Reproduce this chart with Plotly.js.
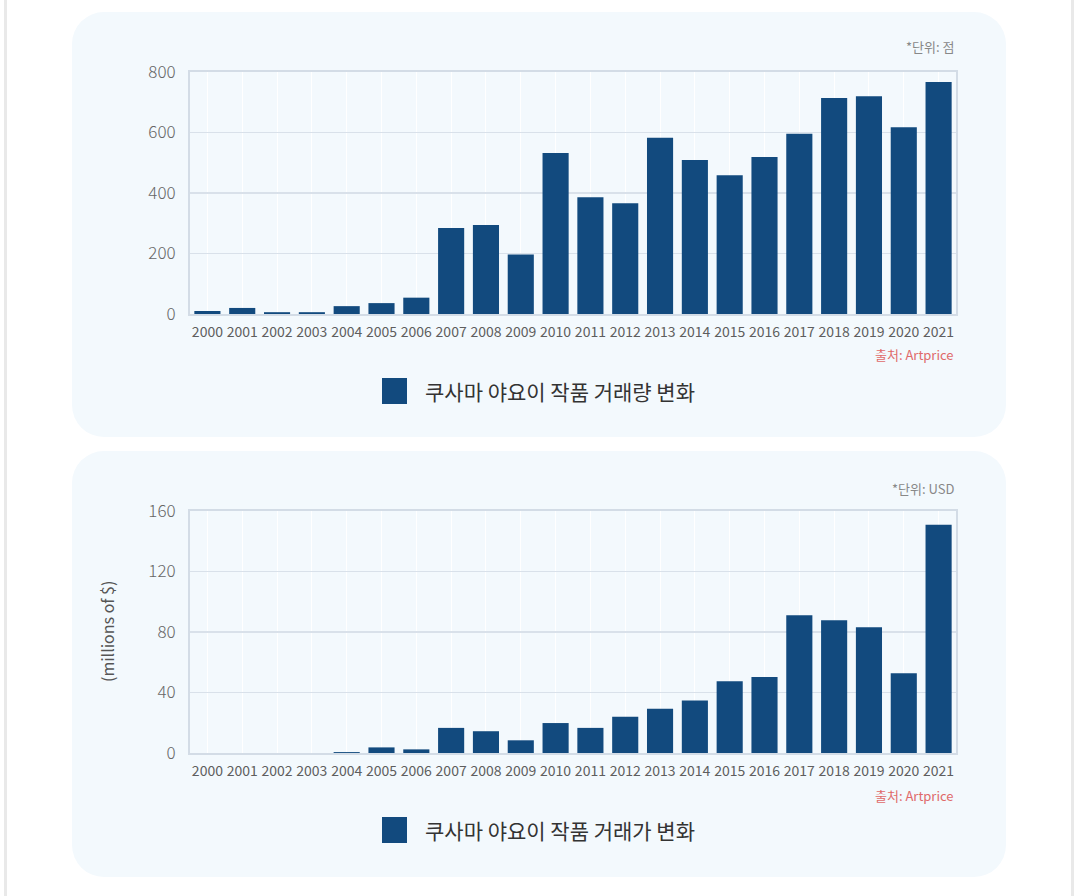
<!DOCTYPE html>
<html>
<head>
<meta charset="utf-8">
<script src="https://cdn.plot.ly/plotly-3.0.1.min.js"></script>
<style>
  html, body { margin:0; padding:0; background:#ffffff; width:1080px; height:896px; overflow:hidden; }
  .edge { position:absolute; top:0; width:3px; height:896px; background:#e9e9e9; }
  .panel { position:absolute; left:72px; width:934px; background:#f3f9fd; border-radius:32px; }
  #chart { position:absolute; left:0; top:0; width:1080px; height:896px; }
</style>
</head>
<body>
<div class="edge" style="left:4px"></div>
<div class="edge" style="left:1071px"></div>
<div class="panel" style="top:12px;height:425px"></div>
<div class="panel" style="top:451px;height:426px"></div>
<div id="chart"></div>
<script>
const years = ['2000','2001','2002','2003','2004','2005','2006','2007','2008','2009','2010',
               '2011','2012','2013','2014','2015','2016','2017','2018','2019','2020','2021'];
const volume = [10,20,6,6,26,36,54,284,294,197,532,386,366,583,509,459,519,596,714,720,617,767];
const salesValue = [0,0,0,0,0.6,3.7,2.4,16.6,14.4,8.4,19.8,16.6,23.9,29.2,34.7,47.5,50.2,91.1,87.8,83.2,52.8,150.9];
const volumeTicks = [0,200,400,600,800];
const valueTicks = [0,40,80,120,160];
const legendVolume = '쿠사마 야요이 작품 거래량 변화';
const legendValue = '쿠사마 야요이 작품 거래가 변화';
const unitVolume = '*단위: 점';
const unitValue = '*단위: USD';
const sourceText = '출처: Artprice';
const yTitle2 = '(millions of $)';

const W = 1080, H = 896;
const px = x => x / W;
const py = y => (H - y) / H;
const FONT = '"Noto Sans CJK KR", "Noto Sans", sans-serif';
const BAR = '#124a7e';

const xCommon = {
  type:'category', domain:[px(190), px(956)],
  showgrid:true, gridcolor:'rgba(255,255,255,0.95)', gridwidth:1,
  showline:true, linecolor:'#d3dce6', linewidth:2, mirror:true,
  ticks:'', ticklabelstandoff:4,
  tickfont:{family:FONT, size:14, color:'#5e5e5e'}, fixedrange:true
};
const yCommon = {
  showgrid:true, gridcolor:'#d9e1ea', gridwidth:1.5, zeroline:false,
  showline:true, linecolor:'#d3dce6', linewidth:2, mirror:true,
  ticks:'', ticklabelstandoff:9,
  tickfont:{family:FONT, size:17, color:'#666', weight:300}, fixedrange:true
};

const traces = [
  {type:'bar', x:years, y:volume, xaxis:'x', yaxis:'y', marker:{color:BAR}, hoverinfo:'x+y', showlegend:false},
  {type:'bar', x:years, y:salesValue, xaxis:'x2', yaxis:'y2', marker:{color:BAR}, hoverinfo:'x+y', showlegend:false}
];

const layout = {
  width:W, height:H,
  margin:{l:0, r:0, t:0, b:0},
  paper_bgcolor:'rgba(0,0,0,0)', plot_bgcolor:'rgba(0,0,0,0)',
  bargap:0.25, showlegend:false,
  font:{family:FONT},
  xaxis:Object.assign({}, xCommon, {anchor:'y'}),
  yaxis:Object.assign({}, yCommon, {anchor:'x', domain:[py(314), py(72)], range:[0,800], tickvals:volumeTicks}),
  xaxis2:Object.assign({}, xCommon, {anchor:'y2'}),
  yaxis2:Object.assign({}, yCommon, {anchor:'x2', domain:[py(753), py(511)], range:[0,160], tickvals:valueTicks}),
  shapes:[
    {type:'rect', xref:'paper', yref:'paper', x0:px(382), x1:px(407), y0:py(404), y1:py(378), fillcolor:BAR, line:{width:0}},
    {type:'rect', xref:'paper', yref:'paper', x0:px(382), x1:px(407), y0:py(843), y1:py(817), fillcolor:BAR, line:{width:0}}
  ],
  annotations:[
    {xref:'paper', yref:'paper', x:px(956), y:py(47), xanchor:'right', yanchor:'middle', showarrow:false,
     text:unitVolume, font:{family:FONT, size:13, color:'#888'}},
    {xref:'paper', yref:'paper', x:px(956), y:py(355), xanchor:'right', yanchor:'middle', showarrow:false,
     text:sourceText, font:{family:FONT, size:13, color:'#e06a6a'}},
    {xref:'paper', yref:'paper', x:px(423), y:py(391), xanchor:'left', yanchor:'middle', showarrow:false,
     text:legendVolume, font:{family:FONT, size:21, color:'#333'}},
    {xref:'paper', yref:'paper', x:px(956), y:py(488), xanchor:'right', yanchor:'middle', showarrow:false,
     text:unitValue, font:{family:FONT, size:13, color:'#888'}},
    {xref:'paper', yref:'paper', x:px(956), y:py(795), xanchor:'right', yanchor:'middle', showarrow:false,
     text:sourceText, font:{family:FONT, size:13, color:'#e06a6a'}},
    {xref:'paper', yref:'paper', x:px(423), y:py(830), xanchor:'left', yanchor:'middle', showarrow:false,
     text:legendValue, font:{family:FONT, size:21, color:'#333'}},
    {xref:'paper', yref:'paper', x:px(107), y:py(632), xanchor:'center', yanchor:'middle', showarrow:false,
     textangle:-90, text:yTitle2, font:{family:FONT, size:16, color:'#555'}}
  ]
};

Plotly.newPlot('chart', traces, layout, {displayModeBar:false, staticPlot:true});
</script>
</body>
</html>
